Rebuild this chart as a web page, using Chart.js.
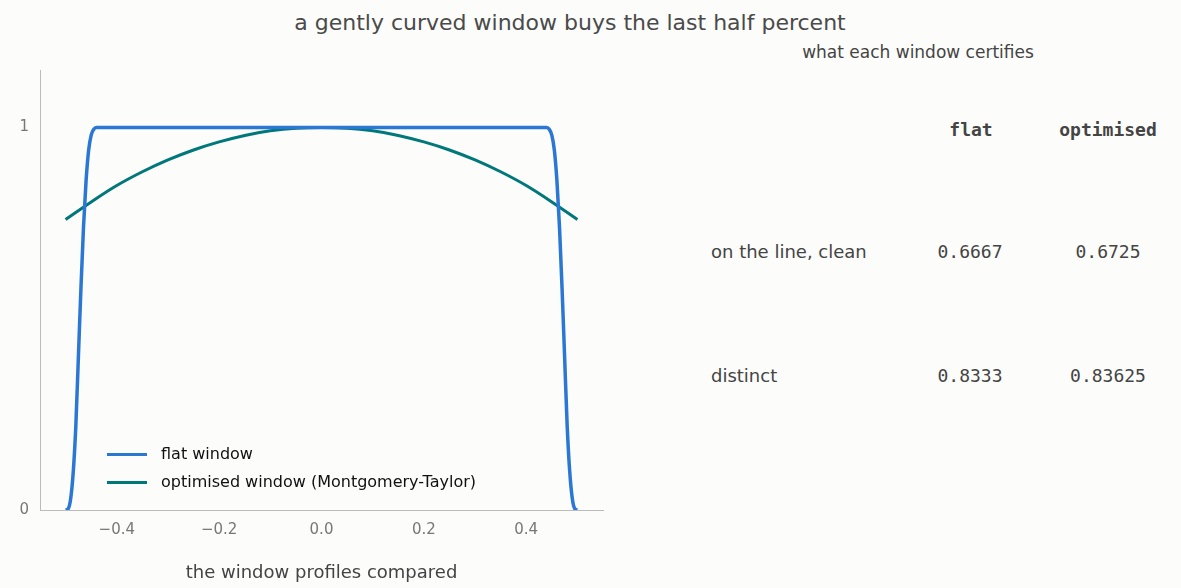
<!DOCTYPE html>
<html><head><meta charset="utf-8">
<script src="https://cdn.jsdelivr.net/npm/chart.js@4"></script>
<style>
body{margin:0;background:#fcfcfa;font-family:"DejaVu Sans",sans-serif;color:#444;}
#wrap{position:absolute;left:0;top:0;width:620px;height:588px;}
.t{position:absolute;white-space:nowrap;}
.m{font-family:"DejaVu Sans Mono",monospace;transform:translateX(-50%);}
</style></head><body>
<div class="t" style="left:570px;top:10px;font-size:22px;transform:translateX(-50%);color:#4a4a4a">a gently curved window buys the last half percent</div>
<div id="wrap"><canvas id="c"></canvas></div>
<div class="t" style="left:918px;top:42px;font-size:17px;transform:translateX(-50%)">what each window certifies</div>
<div class="t m" style="left:971px;top:119px;font-size:18px;font-weight:bold">flat</div>
<div class="t m" style="left:1108px;top:119px;font-size:18px;font-weight:bold">optimised</div>
<div class="t" style="left:711px;top:241px;font-size:18px">on the line, clean</div>
<div class="t m" style="left:970px;top:241px;font-size:18px">0.6667</div>
<div class="t m" style="left:1108px;top:241px;font-size:18px">0.6725</div>
<div class="t" style="left:711px;top:365px;font-size:18px">distinct</div>
<div class="t m" style="left:970px;top:365px;font-size:18px">0.8333</div>
<div class="t m" style="left:1108px;top:365px;font-size:18px">0.83625</div>
<div class="t" style="left:107px;top:444px;font-size:16px;color:#111"><span style="display:inline-block;width:40px;height:3px;background:#2a77d4;vertical-align:middle;margin-right:14px"></span>flat window</div>
<div class="t" style="left:107px;top:472px;font-size:16px;color:#111"><span style="display:inline-block;width:40px;height:3px;background:#00777a;vertical-align:middle;margin-right:14px"></span>optimised window (Montgomery-Taylor)</div>
<script>
const flatX=[-0.5,-0.495,-0.49,-0.485,-0.48,-0.475,-0.47,-0.465,-0.46,-0.455,-0.45,-0.445,-0.44,0.44,0.445,0.45,0.455,0.46,0.465,0.47,0.475,0.48,0.485,0.49,0.495,0.5];
const flatY=[0,0.003,0.03,0.1,0.22,0.4,0.58,0.74,0.86,0.94,0.98,0.995,1,1,0.995,0.98,0.94,0.86,0.74,0.58,0.4,0.22,0.1,0.03,0.003,0];
const optX=[-0.5,-0.45,-0.4,-0.35,-0.3,-0.25,-0.2,-0.15,-0.1,-0.05,0,0.05,0.1,0.15,0.2,0.25,0.3,0.35,0.4,0.45,0.5];
const optY=[0.759,0.805,0.848,0.884,0.915,0.941,0.962,0.979,0.991,0.998,1,0.998,0.991,0.979,0.962,0.941,0.915,0.884,0.848,0.805,0.759];
const xTicks=[-0.4,-0.2,0,0.2,0.4];
const yTicks=[0,1];
const pts=(xs,ys)=>xs.map((x,i)=>({x,y:ys[i]}));
new Chart(document.getElementById('c'),{type:'line',
data:{datasets:[
{data:pts(flatX,flatY),borderColor:'#2a77d4',borderWidth:3.5,pointRadius:0,tension:0.4,cubicInterpolationMode:'monotone'},
{data:pts(optX,optY),borderColor:'#00777a',borderWidth:3,pointRadius:0,tension:0.4}]},
options:{responsive:true,maintainAspectRatio:false,animation:false,
layout:{padding:{top:70,right:17,left:0,bottom:0}},
plugins:{legend:{display:false},tooltip:{enabled:false}},
scales:{
x:{type:'linear',min:-0.55,max:0.55,grid:{display:false},border:{color:'#bbb'},
afterBuildTicks:a=>{a.ticks=xTicks.map(v=>({value:v}));},
afterFit:a=>{a.height=78;},
ticks:{color:'#777',font:{size:15,family:'DejaVu Sans'},callback:v=>v===0?'0.0':(v<0?'\u2212'+Math.abs(v).toFixed(1):v.toFixed(1))},
title:{display:true,text:'the window profiles compared',color:'#444',font:{size:18,family:'DejaVu Sans'},padding:{top:6}}},
y:{min:0,max:1.15,grid:{display:false},border:{color:'#bbb'},
afterBuildTicks:a=>{a.ticks=yTicks.map(v=>({value:v}));},
afterFit:a=>{a.width=40;},
ticks:{color:'#777',font:{size:15,family:'DejaVu Sans'}}}}}});
</script></body></html>
